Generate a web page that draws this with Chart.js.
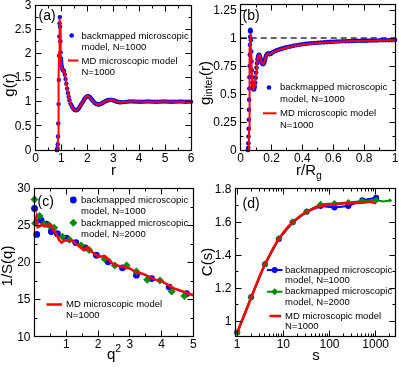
<!DOCTYPE html>
<html>
<head>
<meta charset="utf-8">
<script src="https://cdn.jsdelivr.net/npm/chart.js@4.4.1/dist/chart.umd.min.js"></script>
<style>
body { margin: 0; background: #fff; }
#wrap { position: relative; width: 399px; height: 367px; }
#wrap canvas { position: absolute; left: 0; top: 0; }
</style>
</head>
<body>
<div id="wrap">
  <canvas id="panelA" width="399" height="367"></canvas>
  <canvas id="panelB" width="399" height="367"></canvas>
  <canvas id="panelC" width="399" height="367"></canvas>
  <canvas id="panelD" width="399" height="367"></canvas>
</div>
<script>
const FONT = '"Liberation Sans", Arial, Helvetica, sans-serif';
const BLUE = '#0000ff';
const RED = '#ff0000';
const GREEN = '#008c00';

// (a) g(r)
const aBlueR = [0.82,0.83,0.84,0.85,0.86,0.87,0.88,0.89,0.90,0.91,0.92,0.93,0.94,0.95,0.96,0.97,0.98,0.99,1.00,
    1.02,1.04,1.06,1.08,1.10,
    1.13,1.16,1.19,1.22,1.25,1.28,1.31,
    1.35,1.39,1.43,1.47,1.51,1.55,1.59,1.63,1.67,1.71,1.75,1.79,1.83,1.87,1.91,1.95,1.99,2.03,2.07,2.11,
    2.15,2.19,2.23,2.27,2.31,2.35,2.39,2.43,2.47,2.51,2.55,2.59,2.63,2.67,2.71,2.75,2.79,2.83,2.87,2.91,2.95,
    3.00,3.05,3.10,3.15,3.20,3.25,3.30,
    3.40,3.50,3.60,3.70,3.80,3.90,4.00,4.10,4.20,4.30,4.40,4.50,4.60,4.70,4.80,4.90,5.00,5.10,5.20,5.30,
    5.40,5.50,5.60,5.70,5.80,5.90,6.00];
const aBlueG = [0.00,0.00,0.01,0.04,0.12,0.28,0.55,0.95,1.45,1.95,2.35,2.62,2.75,2.55,2.25,2.02,1.90,1.83,1.78,
    1.72,1.67,1.65,1.645,1.63,
    1.56,1.47,1.37,1.27,1.18,1.10,1.03,
    0.96,0.92,0.88,0.85,0.83,0.82,0.825,0.84,0.865,0.895,0.93,0.965,1.00,1.04,1.07,1.095,1.11,1.115,1.105,1.085,
    1.06,1.035,1.01,0.985,0.965,0.953,0.945,0.942,0.945,0.952,0.962,0.975,0.988,1.00,1.012,1.022,1.03,1.035,1.038,1.038,1.035,
    1.03,1.02,1.01,1.00,0.993,0.988,0.987,
    0.99,0.996,1.003,1.006,1.004,1.0,0.998,0.997,1.0,1.002,1.003,1.0,0.998,0.998,1.0,1.002,1.002,1.0,0.998,0.999,
    1.0,1.001,1.002,1.0,0.999,1.0,1.0];
const aRedR = [0.84,0.85,0.86,0.87,0.88,0.89,0.90,0.91,0.92,0.93,0.94,0.95,0.96,0.97,0.98,
    1.00,1.03,1.06,1.09,1.12,1.16,1.20,
    1.25,1.30,1.35,1.40,1.45,1.50,1.55,1.60,1.65,1.70,1.75,1.80,1.85,1.90,1.95,2.00,2.05,2.10,
    2.20,2.30,2.40,2.50,2.60,2.70,2.80,2.90,3.00,3.10,3.20,3.30,
    3.50,3.70,3.90,4.20,4.50,5.00,5.50,6.00];
const aRedG = [0.0,0.02,0.1,0.3,0.6,1.0,1.5,2.0,2.4,2.65,2.73,2.5,2.2,2.0,1.88,
    1.74,1.66,1.64,1.64,1.6,1.5,1.36,
    1.18,1.05,0.96,0.89,0.85,0.83,0.82,0.83,0.855,0.89,0.93,0.975,1.02,1.06,1.095,1.115,1.11,1.085,
    1.02,0.965,0.943,0.95,0.98,1.012,1.03,1.038,1.03,1.008,0.992,0.987,
    0.996,1.005,1.002,0.998,1.0,1.002,1.0,1.0];
const aXTicks = [0, 1, 2, 3, 4, 5, 6];
const aYTicks = [0, 0.5, 1, 1.5, 2, 2.5, 3];

// (b) g_inter(r)
const bBlueR = [0.046,0.048,0.049,0.050,0.051,0.052,0.053,0.054,0.055,0.056,0.057,0.058,0.059,0.060,0.061,0.062,0.063,0.064,
    0.066,0.068,0.070,0.072,0.074,0.076,0.079,0.082,0.085,0.088,0.091,0.094,0.097,0.100,0.103,0.106,0.109,0.112,0.115,0.118,0.121,
    0.125,0.129,0.133,0.137,0.141,0.145,0.149,0.153,0.157,0.161,0.165,0.170,0.175,0.180,0.185,0.190,0.195,0.200,
    0.21,0.22,0.23,0.24,0.25,0.26,0.27,0.28,0.29,0.30,
    0.32,0.34,0.36,0.38,0.40,0.42,0.44,0.46,0.48,0.50,0.52,0.54,0.56,0.58,0.60,0.62,0.64,0.66,0.68,0.70,
    0.72,0.74,0.76,0.78,0.80,0.82,0.84,0.86,0.88,0.90,0.92,0.94,0.96,0.98,1.00];
const bBlueG = [0,0,0.02,0.06,0.12,0.19,0.27,0.36,0.45,0.55,0.65,0.75,0.85,0.94,1.01,1.06,1.075,1.06,
    0.98,0.88,0.79,0.71,0.65,0.60,0.565,0.545,0.54,0.545,0.565,0.60,0.645,0.69,0.735,0.775,0.81,0.83,0.845,0.85,0.848,
    0.835,0.815,0.795,0.78,0.77,0.767,0.772,0.785,0.805,0.825,0.842,0.855,0.861,0.862,0.858,0.857,0.86,0.866,
    0.876,0.882,0.888,0.893,0.898,0.903,0.907,0.911,0.915,0.918,
    0.924,0.930,0.936,0.941,0.945,0.948,0.951,0.954,0.956,0.958,0.960,0.962,0.964,0.966,0.967,0.969,0.970,0.971,0.972,0.973,
    0.974,0.975,0.976,0.976,0.977,0.977,0.978,0.979,0.979,0.980,0.980,0.981,0.981,0.982,0.982];
const bRedR = [0.052,0.053,0.054,0.055,0.056,0.057,0.058,0.059,0.060,0.061,0.062,0.063,0.064,
    0.066,0.068,0.070,0.074,0.078,0.082,0.086,0.090,
    0.095,0.100,0.105,0.110,0.115,0.120,0.125,0.130,0.135,0.140,0.145,0.150,0.155,0.160,0.165,0.170,0.175,0.180,0.185,0.190,
    0.200,0.220,0.250,0.300,0.350,0.400,0.500,0.600,0.700,0.800,0.900,1.000];
const bRedG = [0.0,0.08,0.18,0.3,0.42,0.55,0.67,0.79,0.9,0.98,1.03,1.045,1.03,
    0.95,0.85,0.76,0.63,0.57,0.545,0.545,0.565,
    0.62,0.69,0.76,0.815,0.842,0.848,0.835,0.81,0.787,0.772,0.768,0.775,0.795,0.822,0.843,0.855,0.86,0.86,0.856,0.857,
    0.865,0.88,0.896,0.916,0.932,0.943,0.956,0.965,0.971,0.975,0.978,0.98];
const bRefR = [0, 1];
const bRefG = [1, 1];
const bXTicks = [0, 0.2, 0.4, 0.6, 0.8, 1];
const bYTicks = [0, 0.25, 0.5, 0.75, 1, 1.25];

// (c) 1/S(q)
const cBlueQ2 = [0.0,0.07,0.21,0.37,0.53,0.72,1.0,1.3,1.6,1.95,2.32,2.77,3.21,3.69,4.24,4.79];
const cBlueS = [27.3,23.8,25.7,25.2,24.2,23.9,23.3,22.7,22.0,21.0,20.1,19.3,18.3,17.85,16.7,15.8];
const cGreenQ2 = [0.0,0.02,0.16,0.3,0.47,0.62,0.88,1.1,1.47,1.72,2.21,2.53,2.9,3.21,3.55,3.95,4.32,4.72];
const cGreenS = [28.5,25.3,26.3,25.2,25.0,24.7,23.5,23.1,22.3,21.7,20.5,19.6,19.6,18.8,17.7,17.6,16.1,15.5];
const cRedQ2 = [0.02,0.06,0.1,0.2,0.3,0.4,0.5,0.58,0.68,0.78,0.85,0.95,1.1,1.25,1.4,1.55,1.65,1.75,1.9,2.05,
    2.2,2.32,2.45,2.6,2.8,3.0,3.2,3.4,3.6,3.8,4.0,4.2,4.4,4.6,4.8,5.0];
const cRedS = [25.6,26.2,24.8,25.0,25.1,24.9,25.1,24.5,23.9,23.0,22.7,23.0,23.0,22.8,22.2,21.7,22.1,21.7,21.1,20.8,
    20.9,20.5,19.9,19.6,19.4,19.2,18.7,18.5,18.1,17.7,17.5,17.0,16.5,16.2,15.9,15.6];
const cXTicks = [0, 1, 2, 3, 4, 5];
const cXLabels = [1, 2, 3, 4, 5];
const cYTicks = [10, 15, 20, 25, 30];

// (d) C(s)
const dBlueS = [1,2,4,8,16,32,64,128,256,512,1024];
const dBlueC = [0.93,1.144,1.344,1.497,1.598,1.662,1.697,1.688,1.697,1.732,1.747];
const dGreenS = [1,2,4,8,16,32,64,128,256,512,1024,1450,2048];
const dGreenC = [0.93,1.143,1.345,1.5,1.6,1.664,1.708,1.712,1.718,1.728,1.733,1.725,1.73];
const dGreenMarks = [3.5,3.5,3.5,3.5,3.5,3.5,3.5,3.5,3.5,3.5,3.5,0,2];
const dRedS = [1,1.5,2,3,4,6,8,12,16,24,32,48,64,96,128,192,256,384,512,768,1024];
const dRedC = [0.93,1.05,1.14,1.265,1.345,1.44,1.5,1.565,1.6,1.64,1.662,1.685,1.697,1.705,1.708,1.712,1.713,1.715,1.717,1.722,1.713];
const dXTicks = [1, 10, 100, 1000];
const dYTicks = [1, 1.2, 1.4, 1.6, 1.8];

const LEGEND_1 = ['backmapped microscopic', 'model, N=1000'];
const LEGEND_2 = ['backmapped microscopic', 'model, N=2000'];
const LEGEND_MD = ['MD microscopic model', 'N=1000'];

function pts(xs, ys) {
    return xs.map((x, i) => ({ x: x, y: ys[i] }));
}

// little drawing helpers for the hand placed texts
function label(ctx, s, x, y, size, align) {
    ctx.font = size + 'px ' + FONT;
    ctx.textAlign = align || 'left';
    ctx.textBaseline = 'alphabetic';
    ctx.fillText(s, x, y);
}

// parts: [text, size, shift] drawn one after another, centred on cx
function richText(ctx, parts, cx, cy, rotated) {
    ctx.save();
    ctx.translate(cx, cy);
    if (rotated) ctx.rotate(-Math.PI / 2);
    ctx.textAlign = 'left';
    ctx.textBaseline = rotated ? 'middle' : 'alphabetic';
    let total = 0;
    parts.forEach(p => { ctx.font = p[1] + 'px ' + FONT; total += ctx.measureText(p[0]).width; });
    let x = -total / 2;
    parts.forEach(p => {
        ctx.font = p[1] + 'px ' + FONT;
        ctx.fillText(p[0], x, p[2] || 0);
        x += ctx.measureText(p[0]).width;
    });
    ctx.restore();
}

function legendLines(ctx, lines, x, y, step) {
    ctx.font = '9.5px ' + FONT;
    ctx.textAlign = 'left';
    ctx.textBaseline = 'middle';
    lines.forEach((s, i) => ctx.fillText(s, x, y + i * step));
}

function dot(ctx, x, y, r, color) {
    ctx.fillStyle = color;
    ctx.beginPath();
    ctx.arc(x, y, r, 0, Math.PI * 2);
    ctx.fill();
    ctx.fillStyle = '#000';
}

function diamond(ctx, x, y, r, color) {
    ctx.fillStyle = color;
    ctx.beginPath();
    ctx.moveTo(x, y - r); ctx.lineTo(x + r, y); ctx.lineTo(x, y + r); ctx.lineTo(x - r, y);
    ctx.closePath();
    ctx.fill();
    ctx.fillStyle = '#000';
}

function hline(ctx, x1, x2, y, color, w) {
    ctx.strokeStyle = color;
    ctx.lineWidth = w;
    ctx.beginPath();
    ctx.moveTo(x1, y); ctx.lineTo(x2, y);
    ctx.stroke();
}

function minorLinear(min, max, step) {
    const out = [];
    for (let v = min; v <= max + 1e-9; v += step) out.push(v);
    return out;
}

function minorLog(min, max) {
    const out = [];
    for (let d = 1; d <= 1000; d *= 10) {
        for (let m = 2; m <= 9; m++) {
            if (m * d > min && m * d < max) out.push(m * d);
        }
    }
    return out;
}

const panels = {
    panelA: {
        xTicks: aXTicks, xLabels: aXTicks, xMinor: minorLinear(0, 6, 0.5),
        yTicks: aYTicks, yLabels: aYTicks, yMinor: minorLinear(0, 3, 0.25),
        extra(ctx) {
            richText(ctx, [['g(r)', 15]], 10, 85, true);
            label(ctx, 'r', 113.5, 175, 15, 'center');
            label(ctx, '(a)', 38.5, 19.5, 14);
            dot(ctx, 71.7, 35.5, 2.3, BLUE);
            legendLines(ctx, LEGEND_1, 81.5, 36, 11.5);
            hline(ctx, 68, 78.5, 60.5, RED, 2);
            legendLines(ctx, LEGEND_MD, 81.5, 61, 11);
        }
    },
    panelB: {
        xTicks: bXTicks, xLabels: bXTicks, xMinor: minorLinear(0, 1, 0.1),
        yTicks: bYTicks, yLabels: bYTicks, yMinor: minorLinear(0, 1.3, 0.125),
        extra(ctx) {
            richText(ctx, [['g', 15], ['inter', 10.5, 4], ['(r)', 15]], 205.5, 83, true);
            richText(ctx, [['r/R', 15], ['g', 10.5, 4]], 309, 175, false);
            label(ctx, '(b)', 242.5, 19.5, 14);
            dot(ctx, 269, 87.5, 2.3, BLUE);
            legendLines(ctx, LEGEND_1, 280, 87.5, 12);
            hline(ctx, 263, 276.5, 113.3, RED, 2);
            legendLines(ctx, LEGEND_MD, 280, 113.5, 12);
        }
    },
    panelC: {
        xTicks: cXTicks, xLabels: cXLabels, xMinor: minorLinear(0, 5, 0.5),
        yTicks: cYTicks, yLabels: cYTicks, yMinor: minorLinear(10, 30, 2.5),
        extra(ctx) {
            richText(ctx, [['1/S(q)', 15]], 8, 266, true);
            richText(ctx, [['q', 15], ['2', 10.5, -7]], 114, 359, false);
            label(ctx, '(c)', 37.5, 206, 14);
            dot(ctx, 73.3, 200, 3.4, BLUE);
            legendLines(ctx, LEGEND_1, 81, 200, 11.5);
            diamond(ctx, 73.3, 222.8, 4, GREEN);
            legendLines(ctx, LEGEND_2, 81, 223, 11);
            hline(ctx, 46.5, 62, 304.5, RED, 2.5);
            legendLines(ctx, LEGEND_MD, 66, 304.5, 10.5);
        }
    },
    panelD: {
        xTicks: dXTicks, xLabels: dXTicks, xMinor: minorLog(0.92, 2620),
        yTicks: dYTicks, yLabels: dYTicks, yMinor: minorLinear(1, 1.8, 0.1),
        extra(ctx) {
            richText(ctx, [['C(s)', 15]], 208, 262, true);
            label(ctx, 's', 316, 360, 15, 'center');
            label(ctx, '(d)', 242.5, 207.5, 14);
            hline(ctx, 267, 282.5, 270, BLUE, 2);
            dot(ctx, 274.7, 270, 3, BLUE);
            legendLines(ctx, LEGEND_1, 285, 270, 10.3);
            hline(ctx, 267, 282.5, 291.7, GREEN, 2);
            diamond(ctx, 274.7, 291.7, 3.5, GREEN);
            legendLines(ctx, LEGEND_2, 285, 291.7, 10.3);
            hline(ctx, 269.5, 281, 316, RED, 2.5);
            legendLines(ctx, LEGEND_MD, 285, 316, 10.5);
        }
    }
};

function fmt(v) {
    return String(v);
}

// box, inward ticks on all four sides, tick labels, titles and legend
const framePlugin = {
    id: 'frame',
    afterDatasetsDraw(chart) {
        const p = panels[chart.canvas.id];
        if (!p) return;
        const ctx = chart.ctx;
        const a = chart.chartArea;
        const sx = chart.scales.x;
        const sy = chart.scales.y;
        const snap = v => Math.round(v - 0.5) + 0.5;
        const L = snap(a.left), R = snap(a.right), T = snap(a.top), B = snap(a.bottom);

        ctx.save();
        ctx.strokeStyle = '#000';
        ctx.lineWidth = 1;
        ctx.beginPath();
        const xTick = (v, len) => {
            const x = snap(sx.getPixelForValue(v));
            if (x < L - 0.1 || x > R + 0.1) return;
            ctx.moveTo(x, B); ctx.lineTo(x, B - len);
            ctx.moveTo(x, T); ctx.lineTo(x, T + len);
        };
        const yTick = (v, len) => {
            const y = snap(sy.getPixelForValue(v));
            if (y < T - 0.1 || y > B + 0.1) return;
            ctx.moveTo(L, y); ctx.lineTo(L + len, y);
            ctx.moveTo(R, y); ctx.lineTo(R - len, y);
        };
        p.xMinor.forEach(v => xTick(v, 3));
        p.yMinor.forEach(v => yTick(v, 3));
        p.xTicks.forEach(v => xTick(v, 6));
        p.yTicks.forEach(v => yTick(v, 6));
        ctx.stroke();
        ctx.lineWidth = 1.2;
        ctx.strokeRect(L, T, R - L, B - T);

        ctx.fillStyle = '#000';
        ctx.font = '12px ' + FONT;
        ctx.textAlign = 'center';
        ctx.textBaseline = 'alphabetic';
        p.xLabels.forEach(v => ctx.fillText(fmt(v), sx.getPixelForValue(v), a.bottom + 11.5));
        ctx.textAlign = 'right';
        ctx.textBaseline = 'middle';
        p.yLabels.forEach(v => ctx.fillText(fmt(v), a.left - 4, sy.getPixelForValue(v) + 0.5));

        p.extra(ctx);
        ctx.restore();
    }
};

function makeChart(id, area, xScale, yScale, datasets) {
    return new Chart(document.getElementById(id), {
        type: 'scatter',
        data: { datasets: datasets },
        options: {
            responsive: false,
            animation: false,
            events: [],
            layout: {
                padding: { left: area[0], top: area[1], right: 399 - area[2], bottom: 367 - area[3] }
            },
            plugins: { legend: { display: false }, tooltip: { enabled: false } },
            scales: {
                x: Object.assign({ display: false }, xScale),
                y: Object.assign({ display: false }, yScale)
            }
        },
        plugins: [framePlugin]
    });
}

makeChart('panelA', [35.5, 5, 191, 150],
    { type: 'linear', min: 0, max: 6 },
    { type: 'linear', min: 0, max: 3 },
    [
        { data: pts(aRedR, aRedG), showLine: true, borderColor: RED, borderWidth: 2, pointRadius: 0, order: 0, clip: 3 },
        { data: pts(aBlueR, aBlueG), showLine: false, backgroundColor: BLUE, borderWidth: 0, pointRadius: 2.2, order: 1, clip: 4 }
    ]);

makeChart('panelB', [240.7, 4.5, 395, 150],
    { type: 'linear', min: 0, max: 1 },
    { type: 'linear', min: 0, max: 1.3 },
    [
        { data: pts(bRedR, bRedG), showLine: true, borderColor: RED, borderWidth: 2, pointRadius: 0, order: 0, clip: 3 },
        { data: pts(bRefR, bRefG), showLine: true, borderColor: '#333', borderWidth: 1.5, borderDash: [6, 4], pointRadius: 0, order: 2 },
        { data: pts(bBlueR, bBlueG), showLine: false, backgroundColor: BLUE, borderWidth: 0, pointRadius: 2.3, order: 1, clip: 4 }
    ]);

makeChart('panelC', [34.5, 188.5, 193.3, 336.7],
    { type: 'linear', min: 0, max: 5 },
    { type: 'linear', min: 10, max: 30 },
    [
        { data: pts(cRedQ2, cRedS), showLine: true, borderColor: RED, borderWidth: 2.5, pointRadius: 0, order: 0, clip: 3 },
        { data: pts(cGreenQ2, cGreenS), showLine: false, backgroundColor: GREEN, borderWidth: 0, pointStyle: 'rectRot', pointRadius: 4, order: 1, clip: 5 },
        { data: pts(cBlueQ2, cBlueS), showLine: false, backgroundColor: BLUE, borderWidth: 0, pointRadius: 3.4, order: 2, clip: 5 }
    ]);

makeChart('panelD', [235.5, 188.5, 396.5, 336.7],
    { type: 'logarithmic', min: 0.92, max: 2620 },
    { type: 'linear', min: 0.905, max: 1.803 },
    [
        { data: pts(dRedS, dRedC), showLine: true, borderColor: RED, borderWidth: 2.5, pointRadius: 0, order: 0, clip: 3 },
        { data: pts(dGreenS, dGreenC), showLine: true, borderColor: GREEN, borderWidth: 2, backgroundColor: GREEN, pointStyle: 'rectRot', pointRadius: dGreenMarks, pointBorderWidth: 0, order: 1, clip: 5 },
        { data: pts(dBlueS, dBlueC), showLine: true, borderColor: BLUE, borderWidth: 2, backgroundColor: BLUE, pointRadius: 3, pointBorderWidth: 0, order: 2, clip: 5 }
    ]);
</script>
</body>
</html>
